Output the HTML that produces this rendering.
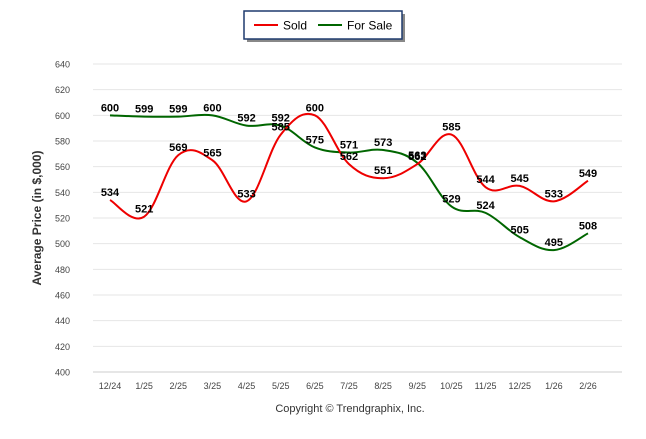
<!DOCTYPE html>
<html><head><meta charset="utf-8"><style>
body{margin:0;background:#fff;font-family:"Liberation Sans",sans-serif}
svg text{font-family:"Liberation Sans",sans-serif}
</style></head><body>
<svg width="646" height="434">
<g>
<rect x="247" y="14" width="158" height="28" fill="#888"/>
<rect x="244" y="11" width="158" height="28" fill="#fff" stroke="#1f3a6e" stroke-width="1.5"/>
<line x1="254" y1="25" x2="278" y2="25" stroke="#e00" stroke-width="2"/>
<text x="283" y="29.5" font-size="12">Sold</text>
<line x1="318" y1="25" x2="342" y2="25" stroke="#060" stroke-width="2"/>
<text x="347" y="29.5" font-size="12">For Sale</text>
</g>
<g id="grid"></g><g id="axes"></g><g id="series"></g><g id="labels"></g>
<text transform="translate(41,218) rotate(-90)" text-anchor="middle" font-size="12" font-weight="bold" fill="#333">Average Price (in $,000)</text>
<text x="350" y="412" text-anchor="middle" font-size="11" fill="#333">Copyright © Trendgraphix, Inc.</text>
</svg>
<script>
const categories=["12/24","1/25","2/25","3/25","4/25","5/25","6/25","7/25","8/25","9/25","10/25","11/25","12/25","1/26","2/26"];
const sold=[534,521,569,565,533,585,600,562,551,562,585,544,545,533,549];
const forSale=[600,599,599,600,592,592,575,571,573,563,529,524,505,495,508];
const yTicks=[400,420,440,460,480,500,520,540,560,580,600,620,640];
const NS="http://www.w3.org/2000/svg";
const x=i=>110+i*(478/14);
const y=v=>372-(v-400)*(308/240);
function mk(tag,attrs,parent){const e=document.createElementNS(NS,tag);for(const k in attrs)e.setAttribute(k,attrs[k]);parent.appendChild(e);return e;}
const grid=document.getElementById('grid'),axes=document.getElementById('axes'),series=document.getElementById('series'),labels=document.getElementById('labels');
yTicks.forEach(t=>{
 const l=mk('line',{x1:93,x2:622,y1:y(t),y2:y(t),stroke:t===400?'#ccc':'#e6e6e6','stroke-width':1},grid);
 
 
 const tx=mk('text',{x:70,y:y(t)+3.5,'text-anchor':'end','font-size':9,fill:'#444'},axes);tx.textContent=t;
 
 
});
categories.forEach((c,i)=>{
 const tx=mk('text',{x:x(i),y:389,'text-anchor':'middle','font-size':9,fill:'#444'},axes);tx.textContent=c;
 
 
});
function path(vals){
 const p=vals.map((v,i)=>[x(i),y(v)]);let d='M'+p[0][0]+','+p[0][1];
 for(let i=0;i<p.length-1;i++){
  const p0=p[i-1]||p[i],p1=p[i],p2=p[i+1],p3=p[i+2]||p2,t=0.18;
  let c1y=p1[1]+(p2[1]-p0[1])*t,c2y=p2[1]-(p3[1]-p1[1])*t;
  d+=` C${p1[0]+(p2[0]-p0[0])*t},${c1y} ${p2[0]-(p3[0]-p1[0])*t},${c2y} ${p2[0]},${p2[1]}`;
 }return d;
}
[[forSale,'#060','for-sale'],[sold,'#e00','sold']].forEach(([vals,col,name])=>{
 const pth=mk('path',{d:path(vals),fill:'none',stroke:col,'stroke-width':2},series);
 
 
 vals.forEach((v,i)=>{
  const tx=mk('text',{x:x(i),y:y(v)-4,'text-anchor':'middle','font-size':11,'font-weight':'bold',fill:'#000'},labels);tx.textContent=v;
  
  
 });
});
</script>
</body></html>
